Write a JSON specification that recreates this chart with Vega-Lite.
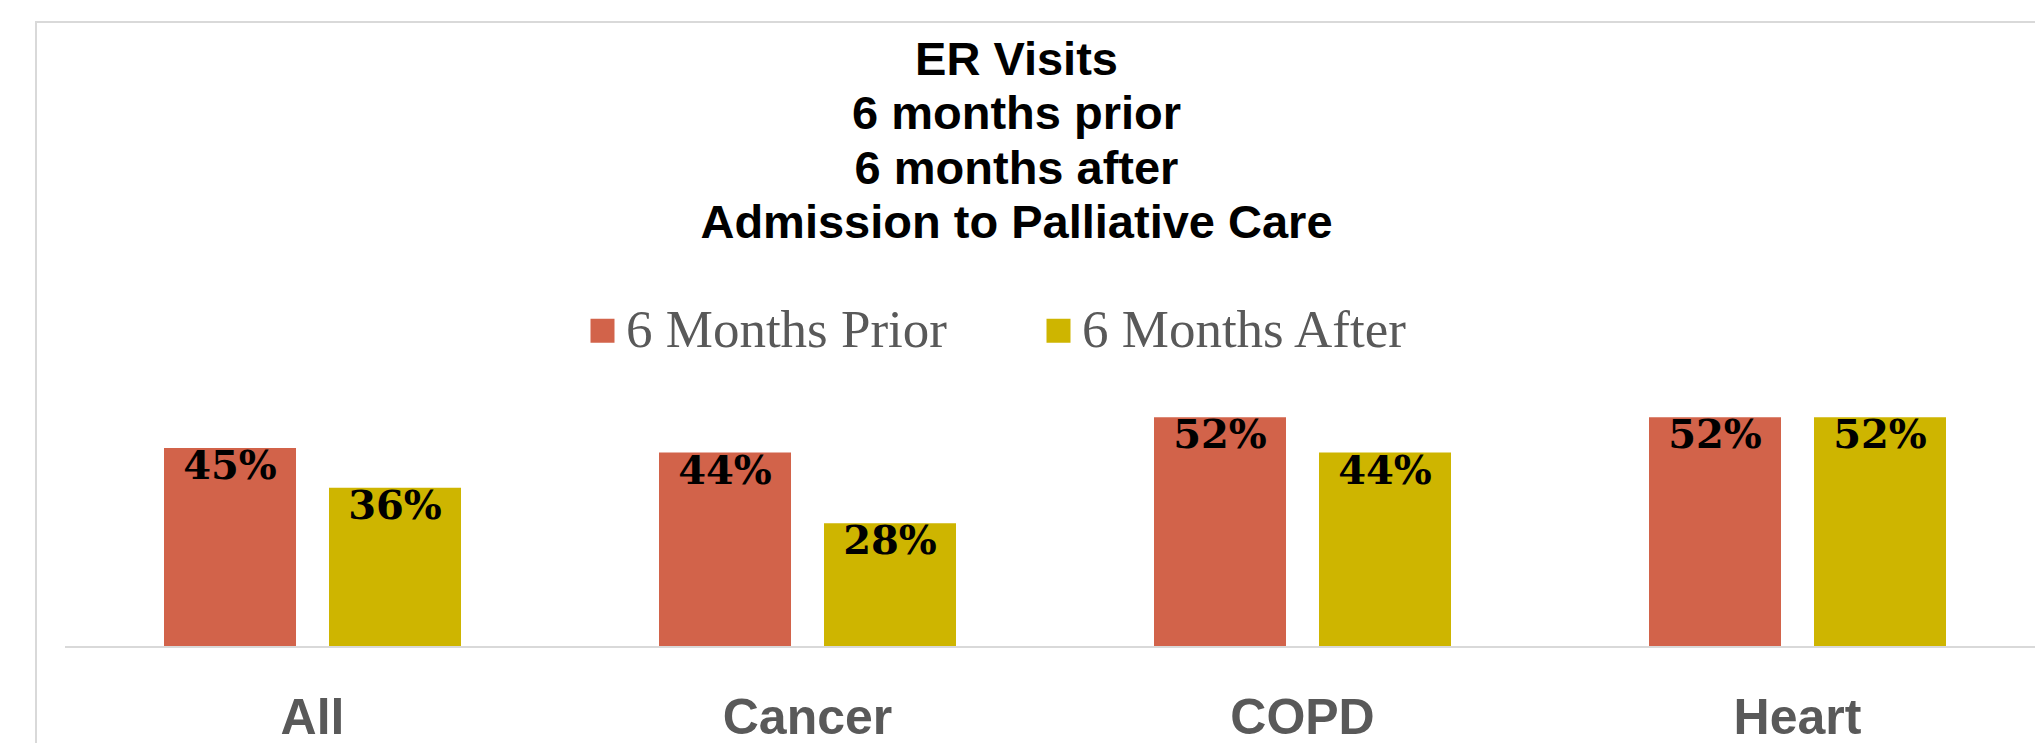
{
  "$schema": "https://vega.github.io/schema/vega-lite/v6.json",
  "autosize": "none",
  "padding": {"left": 36, "top": 22, "right": -10, "bottom": -9},
  "width": 2009,
  "height": 730,
  "background": "white",
  "config": {
    "view": {"stroke": "#d9d9d9", "strokeWidth": 2},
    "font": "Liberation Sans"
  },
  "title": {
    "text": ["ER Visits", "6 months prior", "6 months after", "Admission to Palliative Care"],
    "font": "Liberation Sans",
    "fontSize": 47,
    "fontWeight": "bold",
    "color": "#000000",
    "lineHeight": 54.5,
    "anchor": "middle",
    "frame": "group",
    "offset": -226,
    "dx": -24
  },
  "data": {
    "values": [
      {"category": "All", "period": "6 Months Prior", "value": 45, "label": "45%"},
      {"category": "All", "period": "6 Months After", "value": 36, "label": "36%"},
      {"category": "Cancer", "period": "6 Months Prior", "value": 44, "label": "44%"},
      {"category": "Cancer", "period": "6 Months After", "value": 28, "label": "28%"},
      {"category": "COPD", "period": "6 Months Prior", "value": 52, "label": "52%"},
      {"category": "COPD", "period": "6 Months After", "value": 44, "label": "44%"},
      {"category": "Heart", "period": "6 Months Prior", "value": 52, "label": "52%"},
      {"category": "Heart", "period": "6 Months After", "value": 52, "label": "52%"}
    ]
  },
  "layer": [
    {
      "mark": {"type": "bar"},
      "encoding": {
        "x": {
          "field": "category",
          "type": "nominal",
          "sort": null,
          "scale": {"domain": ["All", "Cancer", "COPD", "Heart"], "paddingInner": 0, "paddingOuter": 0.0293, "align": 1},
          "axis": {
            "title": null,
            "orient": "bottom",
            "offset": -105,
            "labelAngle": 0,
            "ticks": false,
            "domain": false,
            "labelFont": "Liberation Sans",
            "labelFontSize": 50,
            "labelFontWeight": "bold",
            "labelColor": "#595959",
            "labelPadding": 46
          }
        },
        "xOffset": {
          "field": "period",
          "type": "nominal",
          "sort": ["6 Months Prior", "6 Months After"],
          "scale": {"paddingInner": 0.2, "paddingOuter": 0.6}
        },
        "y": {
          "field": "value",
          "type": "quantitative",
          "scale": {"domain": [-23.76, 141.4], "nice": false, "zero": false},
          "axis": null
        },
        "y2": {"datum": 0},
        "color": {
          "field": "period",
          "type": "nominal",
          "scale": {"domain": ["6 Months Prior", "6 Months After"], "range": ["#D2634A", "#CEB500"]},
          "legend": {
            "title": null,
            "orient": "none",
            "direction": "horizontal",
            "legendX": 540,
            "legendY": 282,
            "symbolType": "square",
            "symbolSize": 576,
            "symbolStrokeWidth": 0,
            "labelFont": "Liberation Serif",
            "labelFontSize": 53,
            "labelColor": "#595959",
            "labelOffset": -3,
            "columnPadding": 85,
            "padding": 0,
            "labelLimit": 600
          }
        }
      }
    },
    {
      "mark": {
        "type": "text",
        "font": "DejaVu Serif",
        "fontSize": 40,
        "fontWeight": "bold",
        "color": "#000000",
        "baseline": "middle",
        "align": "center",
        "dy": 19
      },
      "encoding": {
        "x": {"field": "category", "type": "nominal", "sort": null},
        "xOffset": {"field": "period", "type": "nominal", "sort": ["6 Months Prior", "6 Months After"]},
        "y": {"field": "value", "type": "quantitative"},
        "text": {"field": "label"}
      }
    },
    {
      "data": {"values": [{"baseline": 0}]},
      "mark": {"type": "rule", "color": "#d9d9d9", "strokeWidth": 2},
      "encoding": {
        "x": {"datum": "All", "bandPosition": 0},
        "x2": {"datum": "Heart", "bandPosition": 1},
        "y": {"field": "baseline", "type": "quantitative"}
      }
    }
  ]
}
